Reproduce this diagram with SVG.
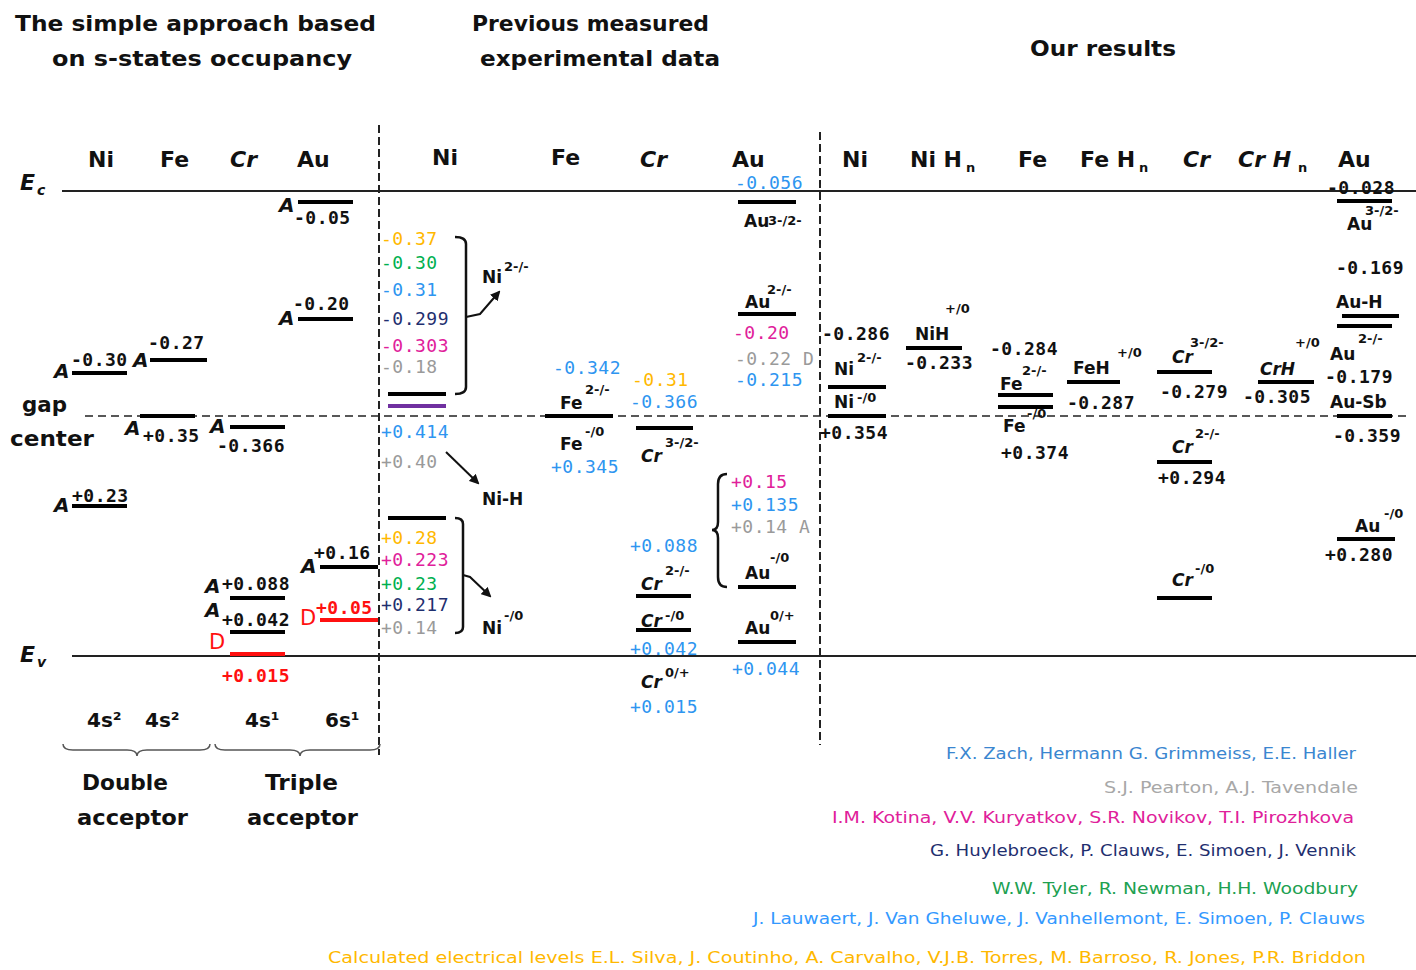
<svg xmlns="http://www.w3.org/2000/svg" width="1416" height="970" viewBox="0 0 1416 970">
<defs>
<style>
.t{font-family:"DejaVu Sans",sans-serif;font-weight:bold;fill:#111}
.h{font-size:22px}
.lb{font-size:17px}
.sp{font-size:13px}
.it{font-style:italic}
.n{font-family:"DejaVu Sans Mono",monospace;font-size:18px;letter-spacing:0.5px;fill:#111}
.nb{font-weight:bold}
.lv{stroke:#000;stroke-width:4}
.ax{stroke:#222;stroke-width:2}
.gd{stroke:#222;stroke-width:1.5;stroke-dasharray:8 5}
.vd{stroke:#222;stroke-width:2;stroke-dasharray:8 4}
.br{fill:none;stroke:#111;stroke-width:2.5}
.bb{fill:none;stroke:#555;stroke-width:1.5}
.ar{fill:none;stroke:#111;stroke-width:2;marker-end:url(#ah)}
.ref{font-family:"DejaVu Sans",sans-serif;font-size:16px}
.or{fill:#FFB800}.gr{fill:#00B050}.bl{fill:#2E95F0}.nv{fill:#1F2F6F}.mg{fill:#E0209A}.gy{fill:#9A9A9A}.rd{fill:#FF1010}
.A{font-family:"DejaVu Sans",sans-serif;font-weight:bold;font-style:italic;font-size:20px;fill:#111}
</style>
<marker id="ah" markerWidth="10" markerHeight="10" refX="8" refY="5" orient="auto" markerUnits="userSpaceOnUse">
<path d="M0,0 L10,5 L0,10 z" fill="#111"/>
</marker>
</defs>
<rect width="1416" height="970" fill="#fff"/>

<g id="titles">
<text class="t h" x="15" y="31" textLength="361" lengthAdjust="spacingAndGlyphs">The simple approach based</text>
<text class="t h" x="52" y="66" textLength="300" lengthAdjust="spacingAndGlyphs">on s-states occupancy</text>
<text class="t h" x="472" y="31" textLength="237" lengthAdjust="spacingAndGlyphs">Previous measured</text>
<text class="t h" x="480" y="66" textLength="240" lengthAdjust="spacingAndGlyphs">experimental data</text>
<text class="t h" x="1030" y="56" textLength="146" lengthAdjust="spacingAndGlyphs">Our results</text>
</g>

<g id="axes">
<line class="ax" x1="62" y1="191" x2="1416" y2="191"/>
<line class="ax" x1="72" y1="656" x2="1416" y2="656"/>
<line class="gd" x1="85" y1="416" x2="1410" y2="416"/>
<line class="vd" x1="379" y1="125" x2="379" y2="755"/>
<line class="vd" x1="820" y1="132" x2="820" y2="745"/>
<text class="t it" x="20" y="190" font-size="22">E</text>
<text class="t it" x="37" y="195" font-size="14">c</text>
<text class="t it" x="20" y="662" font-size="22">E</text>
<text class="t it" x="37" y="667" font-size="14">v</text>
<text class="t h" x="22" y="412" textLength="45" lengthAdjust="spacingAndGlyphs">gap</text>
<text class="t h" x="10" y="446" textLength="84" lengthAdjust="spacingAndGlyphs">center</text>
</g>

<g id="headers">
<text class="t h" x="88" y="167">Ni</text>
<text class="t h" x="160" y="167">Fe</text>
<text class="t h it" x="230" y="167">Cr</text>
<text class="t h" x="297" y="167">Au</text>
<text class="t h" x="432" y="165">Ni</text>
<text class="t h" x="551" y="165">Fe</text>
<text class="t h it" x="640" y="167">Cr</text>
<text class="t h" x="732" y="167">Au</text>
<text class="t h" x="842" y="167">Ni</text>
<text class="t h" x="910" y="167">Ni H</text><text class="t" font-size="13" x="966" y="172">n</text>
<text class="t h" x="1018" y="167">Fe</text>
<text class="t h" x="1080" y="167">Fe H</text><text class="t" font-size="13" x="1139" y="172">n</text>
<text class="t h it" x="1183" y="167">Cr</text>
<text class="t h it" x="1238" y="167">Cr H</text><text class="t" font-size="13" x="1298" y="172">n</text>
<text class="t h" x="1338" y="167">Au</text>
</g>

<g id="simple-approach">
<line class="lv" x1="298" y1="202" x2="353" y2="202"/>
<text class="A" x="279" y="212">A</text>
<text class="n nb" x="294" y="224">-0.05</text>
<line class="lv" x1="298" y1="319" x2="353" y2="319"/>
<text class="A" x="279" y="325">A</text>
<text class="n nb" x="293" y="310">-0.20</text>
<line class="lv" x1="150" y1="360" x2="207" y2="360"/>
<text class="A" x="133" y="367">A</text>
<text class="n nb" x="148" y="349">-0.27</text>
<line class="lv" x1="72" y1="373" x2="127" y2="373"/>
<text class="A" x="54" y="378">A</text>
<text class="n nb" x="71" y="366">-0.30</text>
<line class="lv" x1="140" y1="416" x2="195" y2="416"/>
<text class="A" x="125" y="435">A</text>
<text class="n nb" x="143" y="442">+0.35</text>
<line class="lv" x1="230" y1="427" x2="285" y2="427"/>
<text class="A" x="210" y="433">A</text>
<text class="n nb" x="217" y="452">-0.366</text>
<line class="lv" x1="72" y1="506" x2="127" y2="506"/>
<text class="A" x="54" y="512">A</text>
<text class="n nb" x="72" y="502">+0.23</text>
<line class="lv" x1="320" y1="567" x2="378" y2="567"/>
<text class="A" x="301" y="573">A</text>
<text class="n nb" x="314" y="559">+0.16</text>
<line class="lv" x1="230" y1="598" x2="285" y2="598"/>
<text class="A" x="205" y="593">A</text>
<text class="n nb" x="222" y="590">+0.088</text>
<line class="lv" x1="230" y1="632" x2="285" y2="632"/>
<text class="A" x="205" y="617">A</text>
<text class="n nb" x="222" y="626">+0.042</text>
<line x1="230" y1="654" x2="285" y2="654" stroke="#FF1010" stroke-width="4"/>
<text class="rd" font-family="DejaVu Sans,sans-serif" font-size="21" x="209" y="649">D</text>
<text class="n nb rd" x="222" y="682">+0.015</text>
<line x1="320" y1="620" x2="378" y2="620" stroke="#FF1010" stroke-width="4"/>
<text class="rd" font-family="DejaVu Sans,sans-serif" font-size="21" x="300" y="625">D</text>
<text class="n nb rd" x="316" y="614">+0.05</text>
<text class="t" font-size="20" x="87" y="727">4s²</text>
<text class="t" font-size="20" x="145" y="727">4s²</text>
<text class="t" font-size="20" x="245" y="727">4s¹</text>
<text class="t" font-size="20" x="325" y="727">6s¹</text>
<path class="bb" d="M63,744 Q63,750 73,750 L127,750 Q137,750 137,756 Q137,750 147,750 L200,750 Q210,750 210,744"/>
<path class="bb" d="M215,744 Q215,750 225,750 L290,750 Q300,750 300,756 Q300,750 310,750 L370,750 Q380,750 380,744"/>
<text class="t h" x="82" y="790" textLength="86" lengthAdjust="spacingAndGlyphs">Double</text>
<text class="t h" x="77" y="825" textLength="111" lengthAdjust="spacingAndGlyphs">acceptor</text>
<text class="t h" x="265" y="790" textLength="73" lengthAdjust="spacingAndGlyphs">Triple</text>
<text class="t h" x="247" y="825" textLength="111" lengthAdjust="spacingAndGlyphs">acceptor</text>
</g>

<g id="exp-Ni">
<text class="n or" x="381" y="245">-0.37</text>
<text class="n gr" x="381" y="269">-0.30</text>
<text class="n bl" x="381" y="296">-0.31</text>
<text class="n nv" x="381" y="325">-0.299</text>
<text class="n mg" x="381" y="352">-0.303</text>
<text class="n gy" x="381" y="373">-0.18</text>
<line class="lv" x1="388" y1="394" x2="446" y2="394"/>
<line x1="388" y1="406" x2="446" y2="406" stroke="#7030A0" stroke-width="4"/>
<path class="br" d="M455,237 Q466,237 466,244 L466,387 Q466,394 455,394"/>
<text class="t lb" x="482" y="283">Ni</text><text class="t sp" x="504" y="271">2-/-</text>
<text class="n bl" x="381" y="438">+0.414</text>
<text class="n gy" x="381" y="468">+0.40</text>
<text class="t lb" x="482" y="505">Ni-H</text>
<line class="lv" x1="388" y1="518" x2="446" y2="518"/>
<text class="n or" x="381" y="544">+0.28</text>
<text class="n mg" x="381" y="566">+0.223</text>
<text class="n gr" x="381" y="590">+0.23</text>
<text class="n nv" x="381" y="611">+0.217</text>
<text class="n gy" x="381" y="634">+0.14</text>
<path class="br" d="M455,518 Q463,518 463,524 L463,627 Q463,633 455,633"/>
<text class="t lb" x="482" y="634">Ni</text><text class="t sp" x="504" y="620">-/0</text>
</g>

<g id="exp-Fe">
<text class="n bl" x="553" y="374">-0.342</text>
<text class="t lb" x="560" y="409">Fe</text><text class="t sp" x="585" y="394">2-/-</text>
<line class="lv" x1="545" y1="416" x2="613" y2="416"/>
<text class="t lb" x="560" y="450">Fe</text><text class="t sp" x="585" y="436">-/0</text>
<text class="n bl" x="551" y="473">+0.345</text>
</g>

<g id="exp-Cr">
<text class="n or" x="632" y="386">-0.31</text>
<text class="n bl" x="630" y="408">-0.366</text>
<line class="lv" x1="636" y1="428" x2="693" y2="428"/>
<text class="t lb it" x="641" y="462">Cr</text><text class="t sp" x="665" y="447">3-/2-</text>
<text class="n bl" x="630" y="552">+0.088</text>
<text class="t lb it" x="641" y="590">Cr</text><text class="t sp" x="665" y="575">2-/-</text>
<line class="lv" x1="636" y1="596" x2="691" y2="596"/>
<text class="t lb it" x="641" y="627">Cr</text><text class="t sp" x="665" y="620">-/0</text>
<line class="lv" x1="636" y1="630" x2="691" y2="630"/>
<text class="n bl" x="630" y="655">+0.042</text>
<text class="t lb it" x="641" y="688">Cr</text><text class="t sp" x="665" y="677">0/+</text>
<text class="n bl" x="630" y="713">+0.015</text>
</g>

<g id="exp-Au">
<text class="n bl" x="735" y="189">-0.056</text>
<line class="lv" x1="738" y1="202" x2="796" y2="202"/>
<text class="t lb" x="744" y="227">Au</text><text class="t sp" x="768" y="225">3-/2-</text>
<text class="t lb" x="745" y="308">Au</text><text class="t sp" x="767" y="294">2-/-</text>
<line class="lv" x1="738" y1="314" x2="796" y2="314"/>
<text class="n mg" x="733" y="339">-0.20</text>
<text class="n gy" x="735" y="365">-0.22 D</text>
<text class="n bl" x="735" y="386">-0.215</text>
<path class="br" d="M727,474 Q718,474 718,484 L718,522 Q718,530 712,530 Q718,530 718,538 L718,577 Q718,587 727,587"/>
<text class="n mg" x="731" y="488">+0.15</text>
<text class="n bl" x="731" y="511">+0.135</text>
<text class="n gy" x="731" y="533">+0.14 A</text>
<text class="t lb" x="745" y="579">Au</text><text class="t sp" x="770" y="562">-/0</text>
<line class="lv" x1="738" y1="587" x2="796" y2="587"/>
<text class="t lb" x="745" y="634">Au</text><text class="t sp" x="770" y="620">0/+</text>
<line class="lv" x1="738" y1="642" x2="796" y2="642"/>
<text class="n bl" x="732" y="675">+0.044</text>
</g>

<g id="ours-Ni">
<text class="n nb" x="822" y="340">-0.286</text>
<text class="t lb" x="834" y="375">Ni</text><text class="t sp" x="857" y="362">2-/-</text>
<line class="lv" x1="828" y1="387" x2="886" y2="387"/>
<text class="t lb" x="834" y="408">Ni</text><text class="t sp" x="857" y="402">-/0</text>
<line class="lv" x1="828" y1="416" x2="886" y2="416"/>
<text class="n nb" x="820" y="439">+0.354</text>
</g>

<g id="ours-NiH">
<text class="t sp" x="945" y="313">+/0</text>
<text class="t lb" x="915" y="340">NiH</text>
<line class="lv" x1="906" y1="348" x2="962" y2="348"/>
<text class="n nb" x="905" y="369">-0.233</text>
</g>

<g id="ours-Fe">
<text class="n nb" x="990" y="355">-0.284</text>
<text class="t lb" x="1000" y="390">Fe</text><text class="t sp" x="1022" y="375">2-/-</text>
<line class="lv" x1="998" y1="395" x2="1053" y2="395"/>
<line class="lv" x1="998" y1="407" x2="1053" y2="407"/>
<text class="t lb" x="1003" y="432">Fe</text><text class="t sp" x="1027" y="418">-/0</text>
<text class="n nb" x="1001" y="459">+0.374</text>
</g>

<g id="ours-FeH">
<text class="t sp" x="1117" y="357">+/0</text>
<text class="t lb" x="1073" y="374">FeH</text>
<line class="lv" x1="1067" y1="382" x2="1120" y2="382"/>
<text class="n nb" x="1067" y="409">-0.287</text>
</g>

<g id="ours-Cr">
<text class="t lb it" x="1172" y="363">Cr</text><text class="t sp" x="1190" y="347">3-/2-</text>
<line class="lv" x1="1157" y1="372" x2="1212" y2="372"/>
<text class="n nb" x="1160" y="398">-0.279</text>
<text class="t lb it" x="1172" y="453">Cr</text><text class="t sp" x="1195" y="438">2-/-</text>
<line class="lv" x1="1157" y1="462" x2="1212" y2="462"/>
<text class="n nb" x="1158" y="484">+0.294</text>
<text class="t lb it" x="1172" y="586">Cr</text><text class="t sp" x="1195" y="573">-/0</text>
<line class="lv" x1="1157" y1="598" x2="1212" y2="598"/>
</g>

<g id="ours-CrH">
<text class="t sp" x="1295" y="347">+/0</text>
<text class="t lb it" x="1260" y="375">CrH</text>
<line class="lv" x1="1258" y1="382" x2="1314" y2="382"/>
<text class="n nb" x="1243" y="403">-0.305</text>
</g>

<g id="ours-Au">
<text class="n nb" x="1327" y="194">-0.028</text>
<line class="lv" x1="1337" y1="201" x2="1392" y2="201"/>
<text class="t sp" x="1365" y="215">3-/2-</text>
<text class="t lb" x="1347" y="230">Au</text>
<text class="n nb" x="1336" y="274">-0.169</text>
<text class="t lb" x="1336" y="308">Au-H</text>
<line class="lv" x1="1342" y1="316" x2="1399" y2="316"/>
<line class="lv" x1="1337" y1="326" x2="1392" y2="326"/>
<text class="t sp" x="1358" y="343">2-/-</text>
<text class="t lb" x="1330" y="360">Au</text>
<text class="n nb" x="1325" y="383">-0.179</text>
<text class="t lb" x="1330" y="408">Au-Sb</text>
<line class="lv" x1="1337" y1="416" x2="1392" y2="416"/>
<text class="n nb" x="1333" y="442">-0.359</text>
<text class="t sp" x="1384" y="518">-/0</text>
<text class="t lb" x="1355" y="532">Au</text>
<line class="lv" x1="1337" y1="539" x2="1395" y2="539"/>
<text class="n nb" x="1325" y="561">+0.280</text>
</g>

<g id="connectors">
<path class="ar" d="M466,317 L480,314 L499,292"/>
<path class="ar" d="M463,575 L470,577 L490,596"/>
<path class="ar" d="M446,452 L478,483"/>
</g>

<g id="references">
<text class="ref" x="946" y="759" fill="#3A86D0" textLength="410" lengthAdjust="spacingAndGlyphs">F.X. Zach, Hermann G. Grimmeiss, E.E. Haller</text>
<text class="ref" x="1104" y="793" fill="#A8A8A8" textLength="254" lengthAdjust="spacingAndGlyphs">S.J. Pearton, A.J. Tavendale</text>
<text class="ref" x="832" y="823" fill="#E0209A" textLength="522" lengthAdjust="spacingAndGlyphs">I.M. Kotina, V.V. Kuryatkov, S.R. Novikov, T.I. Pirozhkova</text>
<text class="ref" x="930" y="856" fill="#1F2F6F" textLength="426" lengthAdjust="spacingAndGlyphs">G. Huylebroeck, P. Clauws, E. Simoen, J. Vennik</text>
<text class="ref" x="992" y="894" fill="#20A050" textLength="366" lengthAdjust="spacingAndGlyphs">W.W. Tyler, R. Newman, H.H. Woodbury</text>
<text class="ref" x="753" y="924" fill="#3399FF" textLength="612" lengthAdjust="spacingAndGlyphs">J. Lauwaert, J. Van Gheluwe, J. Vanhellemont, E. Simoen, P. Clauws</text>
<text class="ref" x="328" y="963" fill="#FFB800" textLength="1038" lengthAdjust="spacingAndGlyphs">Calculated electrical levels E.L. Silva, J. Coutinho, A. Carvalho, V.J.B. Torres, M. Barroso, R. Jones, P.R. Briddon</text>
</g>
</svg>
